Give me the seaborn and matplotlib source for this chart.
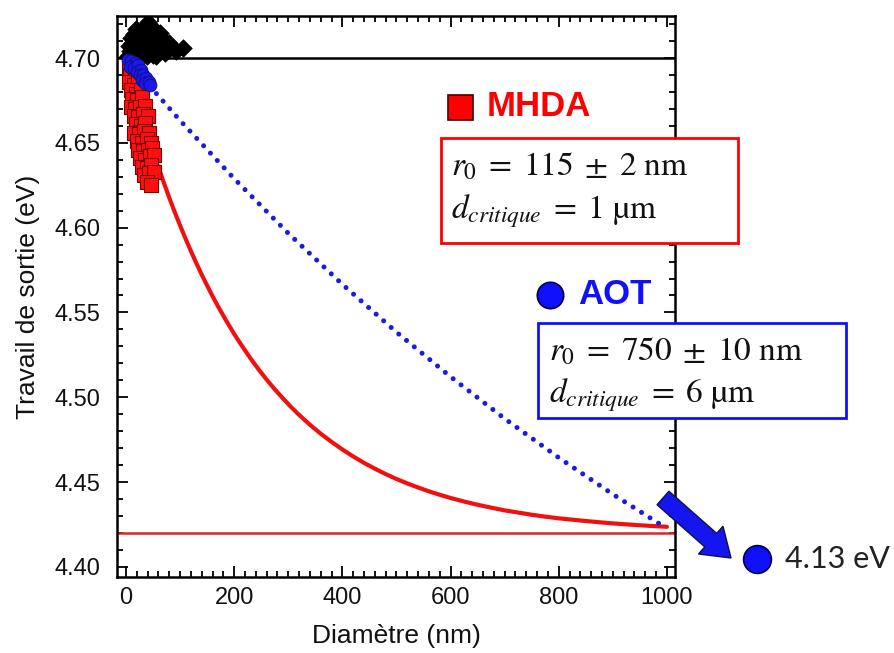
import matplotlib
matplotlib.use("Agg")
import matplotlib.pyplot as plt
from matplotlib.patches import Rectangle, FancyArrow
from matplotlib.lines import Line2D
from matplotlib.ticker import MultipleLocator
import matplotlib.font_manager as fm
import seaborn as sns

# ---------------- data ----------------
black_x = [3, 8, 14, 20, 26, 32, 38, 44, 50, 56, 5, 11, 17, 23, 29, 35, 41, 47, 53, 60,
           9, 15, 21, 27, 33, 39, 45, 51, 18, 26, 34, 41, 46, 66, 73, 80, 92, 105, 62, 55]
black_y = [4.701, 4.704, 4.702, 4.701, 4.703, 4.702, 4.701, 4.703, 4.702, 4.701,
           4.707, 4.709, 4.706, 4.708, 4.707, 4.709, 4.706, 4.708, 4.707, 4.705,
           4.712, 4.714, 4.711, 4.713, 4.712, 4.714, 4.711, 4.713,
           4.717, 4.716, 4.718, 4.721, 4.717, 4.711, 4.703, 4.709, 4.704, 4.706, 4.715, 4.716]

red_x = [5, 12, 20, 8, 16, 25, 6, 14, 22, 10, 18, 28, 12, 21, 30, 9, 17, 26, 35, 14,
         23, 32, 40, 18, 27, 36, 15, 24, 33, 42, 20, 29, 38, 47, 22, 31, 40, 49, 26, 35,
         44, 52, 29, 38, 47, 33, 42, 51, 38, 46]
red_y = [4.695, 4.694, 4.693, 4.690, 4.689, 4.690, 4.686, 4.684, 4.685, 4.681, 4.679, 4.681,
         4.676, 4.675, 4.677, 4.671, 4.670, 4.671, 4.672, 4.666, 4.665, 4.667, 4.666, 4.661,
         4.660, 4.662, 4.656, 4.655, 4.657, 4.656, 4.651, 4.650, 4.652, 4.650, 4.646, 4.645,
         4.646, 4.647, 4.641, 4.640, 4.642, 4.643, 4.636, 4.635, 4.637, 4.631, 4.632, 4.633,
         4.627, 4.625]

blue_x = [4, 10, 16, 8, 14, 22, 20, 27, 25, 32, 30, 37, 36, 42, 45]
blue_y = [4.699, 4.698, 4.697, 4.695, 4.694, 4.696, 4.692, 4.693, 4.690, 4.690, 4.687,
          4.688, 4.685, 4.686, 4.684]

mhda_fit_x = [59, 70, 80, 90, 100, 110, 120, 130, 140, 150, 160, 170, 185, 200, 215, 230,
              245, 260, 275, 290, 305, 320, 340, 360, 380, 400, 420, 440, 460, 480, 500,
              520, 540, 560, 580, 600, 625, 650, 675, 700, 725, 750, 775, 800, 850, 900,
              950, 1000]
mhda_fit_y = [4.6366, 4.6265, 4.6177, 4.6093, 4.6013, 4.5936, 4.5862, 4.5791, 4.5723,
              4.5659, 4.5596, 4.5537, 4.5453, 4.5373, 4.5300, 4.5230, 4.5165, 4.5104,
              4.5047, 4.4994, 4.4943, 4.4896, 4.4838, 4.4785, 4.4737, 4.4692, 4.4651,
              4.4613, 4.4579, 4.4547, 4.4518, 4.4492, 4.4468, 4.4445, 4.4425, 4.4406,
              4.4385, 4.4366, 4.4349, 4.4333, 4.4320, 4.4307, 4.4296, 4.4286, 4.4270,
              4.4256, 4.4245, 4.4236]

aot_fit_x = [44, 100, 200, 300, 400, 500, 600, 700, 800, 900, 1000]
aot_fit_y = [4.6835, 4.6632, 4.6289, 4.5967, 4.5666, 4.5384, 4.5121, 4.4874, 4.4644,
             4.4428, 4.4226]

ref_black = 4.70
ref_red = 4.42

x_ticks = [0, 200, 400, 600, 800, 1000]
y_ticks = [4.40, 4.45, 4.50, 4.55, 4.60, 4.65, 4.70]

# ---------------- style ----------------
sns.set_style("ticks")
avail = {f.name for f in fm.fontManager.ttflist}
sans = "Liberation Sans Narrow" if "Liberation Sans Narrow" in avail else "Liberation Sans"
plt.rcParams["font.family"] = [sans, "DejaVu Sans"]
plt.rcParams["mathtext.fontset"] = "stix"
plt.rcParams["text.color"] = "#111111"
plt.rcParams["axes.labelcolor"] = "#111111"

W, H = 894, 653
fig = plt.figure(figsize=(W / 100, H / 100), dpi=100)
fig.patch.set_facecolor("white")
L, R, T, B = 117, 675, 16, 577
ax = fig.add_axes([L / W, 1 - B / H, (R - L) / W, (B - T) / H])

ax.axhline(ref_black, color="black", lw=1.8, zorder=1)
ax.axhline(ref_red, color="#d42a2a", lw=1.8, zorder=1)

sns.lineplot(x=mhda_fit_x, y=mhda_fit_y, ax=ax, color="#f01010", lw=3.0, zorder=2,
             solid_joinstyle="round")
sns.lineplot(x=aot_fit_x, y=aot_fit_y, ax=ax, color="#1a1ae0", lw=3.6,
             linestyle=(0, (0.01, 2.0)), dash_capstyle="round", zorder=2)

sns.scatterplot(x=black_x, y=black_y, ax=ax, marker="D", s=80, color="black",
                edgecolor="black", linewidth=0.5, zorder=3)
sns.scatterplot(x=red_x, y=red_y, ax=ax, marker="s", s=105, color="#ff1010",
                edgecolor="#7a0000", linewidth=0.8, zorder=4)
sns.scatterplot(x=blue_x, y=blue_y, ax=ax, marker="o", s=85, color="#1818f0",
                edgecolor="#101070", linewidth=0.6, zorder=5)

ax.set_xlim(-16.6, 1015)
ax.set_ylim(4.394, 4.7248)
ax.set_xticks(x_ticks)
ax.set_yticks(y_ticks)
ax.set_yticklabels([f"{v:.2f}" for v in y_ticks])
ax.xaxis.set_minor_locator(MultipleLocator(20))
ax.yaxis.set_minor_locator(MultipleLocator(0.01))
ax.tick_params(which="both", direction="in", top=True, right=True, width=1.3,
               labelsize=17, colors="black", labelcolor="#111111")
ax.tick_params(axis="y", pad=12)
ax.tick_params(axis="x", pad=7)
ax.tick_params(which="major", length=8)
ax.tick_params(which="minor", length=4)
for s in ax.spines.values():
    s.set_linewidth(1.8)
    s.set_color("black")
ax.set_xlabel("Diamètre (nm)", fontsize=19, labelpad=11)
ax.set_ylabel("Travail de sortie (eV)", fontsize=19, labelpad=10)


def fx(px):
    return px / W


def fy(py):
    return 1 - py / H


# MHDA legend + box
fig.add_artist(Line2D([fx(460)], [fy(107)], marker="s", markersize=18, mfc="#ff0000",
                      mec="#400000", mew=1.2, transform=fig.transFigure, zorder=10))
fig.text(fx(487), fy(107), "MHDA", color="#ff0000", fontsize=25, fontweight="bold",
         family="Liberation Sans", va="center", ha="left", zorder=10)
fig.add_artist(Rectangle((fx(441), fy(243)), fx(738) - fx(441), fy(138) - fy(243),
                         transform=fig.transFigure, facecolor="white", edgecolor="#ff0000",
                         lw=2, zorder=8))
fig.text(fx(451), fy(167), r"$r_0 \;=\; 115 \;\pm\; 2\ \mathrm{nm}$", fontsize=24,
         va="center", ha="left", zorder=10, color="#111111")
fig.text(fx(451), fy(211), r"$d_{critique} \;=\; 1\ \mathrm{µm}$", fontsize=24,
         va="center", ha="left", zorder=10, color="#111111")

# AOT legend + box
fig.add_artist(Line2D([fx(550)], [fy(295)], marker="o", markersize=19, mfc="#1010ff",
                      mec="#000040", mew=1.2, transform=fig.transFigure, zorder=10))
fig.text(fx(578), fy(295), "AOT", color="#1010ff", fontsize=25, fontweight="bold",
         family="Liberation Sans", va="center", ha="left", zorder=10)
fig.add_artist(Rectangle((fx(538), fy(418)), fx(846) - fx(538), fy(323) - fy(418),
                         transform=fig.transFigure, facecolor="white", edgecolor="#1010ff",
                         lw=2, zorder=8))
fig.text(fx(549), fy(352), r"$r_0 \;=\; 750 \;\pm\; 10\ \mathrm{nm}$", fontsize=24,
         va="center", ha="left", zorder=10, color="#111111")
fig.text(fx(549), fy(395), r"$d_{critique} \;=\; 6\ \mathrm{µm}$", fontsize=24,
         va="center", ha="left", zorder=10, color="#111111")

# arrow to 4.13 eV point
fig.add_artist(FancyArrow(6.63, (H - 498) / 100, 0.68, -0.60, width=0.18, head_width=0.37,
                          head_length=0.27, length_includes_head=True,
                          transform=fig.dpi_scale_trans, facecolor="#1515f0",
                          edgecolor="#10104a", lw=1.0, zorder=11))
fig.add_artist(Line2D([fx(757)], [fy(559)], marker="o", markersize=20, mfc="#1010ff",
                      mec="#000040", mew=1.2, transform=fig.transFigure, zorder=10))
fig.text(fx(785), fy(559), "4.13 eV", fontsize=22, family=["Lato", "DejaVu Sans"],
         va="center", ha="left", color="#222222", zorder=10)

fig.savefig("out.png", dpi=100, facecolor="white")
